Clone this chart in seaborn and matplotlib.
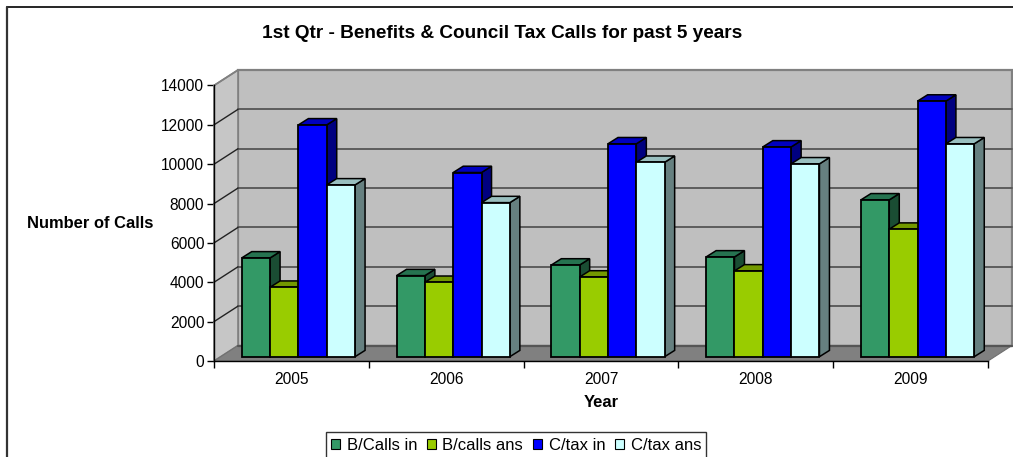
import matplotlib
matplotlib.use("Agg")
import matplotlib.pyplot as plt
import pandas as pd
import seaborn as sns
from matplotlib.lines import Line2D
from matplotlib.patches import Patch, Polygon
from matplotlib.transforms import Affine2D

# Quarterly call volumes per year
years = ["2005", "2006", "2007", "2008", "2009"]
series_names = ["B/Calls in", "B/calls ans", "C/tax in", "C/tax ans"]
benefit_calls_in = [5020, 4120, 4660, 5070, 7970]
benefit_calls_ans = [3530, 3780, 4050, 4360, 6480]
ctax_calls_in = [11780, 9360, 10820, 10660, 12990]
ctax_calls_ans = [8730, 7830, 9880, 9800, 10820]
y_ticks = [0, 2000, 4000, 6000, 8000, 10000, 12000, 14000]

front_colors = ["#339966", "#99CC00", "#0000FF", "#CCFFFF"]
top_colors = ["#267350", "#739900", "#0000BF", "#99BFBF"]
side_colors = ["#1A4D33", "#4D6600", "#000080", "#668080"]

W, H = 1013, 457
sns.set_style("white")
plt.rcParams["font.family"] = ["Liberation Sans", "DejaVu Sans"]
plt.rcParams["text.color"] = "black"
plt.rcParams["xtick.labelcolor"] = "black"
plt.rcParams["ytick.labelcolor"] = "black"

fig = plt.figure(figsize=(W / 100, H / 100), dpi=100, facecolor="white")


def axes_box(left, right, top, bottom):
    return [left / W, 1 - bottom / H, (right - left) / W, (bottom - top) / H]


# Front plane carries the scales; the bars sit slightly inside the box
ax = fig.add_axes(axes_box(214, 988, 85.5, 361))
ax_bars = fig.add_axes(axes_box(221, 995, 81.2, 356.7))
for a in (ax, ax_bars):
    a.set_xlim(-0.5, 4.5)
    a.set_ylim(0, 14000)
ax.set_facecolor("none")
ax_bars.set_facecolor("none")

# Walls and floor of the box, pushed back by a fixed pixel depth
DEPTH_X, DEPTH_Y = 24, 15.5
back = ax.transData + Affine2D().translate(DEPTH_X, DEPTH_Y)
px_x = 5 / (988 - 214)
px_y = 14000 / 275.5
dx, dy = DEPTH_X * px_x, DEPTH_Y * px_y
x0, x1 = -0.5, 4.5
ax.add_patch(Polygon([(x0, 0), (x1, 0), (x1, 14000), (x0, 14000)], closed=True, transform=back,
                     facecolor="#BFBFBF", edgecolor="#808080", linewidth=1.6, zorder=1, clip_on=False))
ax.add_patch(Polygon([(x0, 0), (x0, 14000), (x0 + dx, 14000 + dy), (x0 + dx, dy)], closed=True,
                     facecolor="#C6C6C6", edgecolor="#808080", linewidth=1.2, zorder=1.1, clip_on=False))
for tick in y_ticks[1:-1]:
    ax.plot([x0, x1], [tick, tick], transform=back, color="#555555", lw=1.3, zorder=1.5, clip_on=False)
    ax.plot([x0, x0 + dx], [tick, tick + dy], color="#222222", lw=1.0, zorder=1.5, clip_on=False)
ax.add_patch(Polygon([(x0, 0), (x1, 0), (x1 + dx, dy), (x0 + dx, dy)], closed=True,
                     facecolor="#808080", edgecolor="#707070", linewidth=0.8, zorder=2, clip_on=False))
ax.plot([x0 + dx, x1 + dx], [dy, dy], color="#555555", lw=1.6, zorder=2.1, clip_on=False)
ax.plot([x0, x0 + dx], [14000, 14000 + dy], color="#808080", lw=1.2, zorder=2.1, clip_on=False)

# Front faces of the bars
calls = pd.DataFrame({
    "year": years * 4,
    "series": [s for s in series_names for _ in years],
    "calls": benefit_calls_in + benefit_calls_ans + ctax_calls_in + ctax_calls_ans,
})
sns.barplot(data=calls, x="year", y="calls", hue="series", hue_order=series_names, order=years,
            palette=front_colors, width=0.732, gap=0, saturation=1, legend=False, ax=ax_bars,
            edgecolor="black", linewidth=1.3)
ax_bars.set_xlim(-0.5, 4.5)
ax_bars.set_ylim(0, 14000)
ax_bars.axis("off")

# Side and top faces, stacked so each bar hides its left neighbour's side
BAR_DX, BAR_DY = 10 * px_x, 6.3 * px_y
bars = [b for cont in ax_bars.containers for b in cont]
n_series = len(series_names)
n_years = len(years)
for s_idx in range(n_series):
    for y_idx in range(n_years):
        bar = bars[s_idx * n_years + y_idx]
        left, right = bar.get_x(), bar.get_x() + bar.get_width()
        top = bar.get_height()
        z = 3 + y_idx * 10 + s_idx
        ax_bars.add_patch(Polygon([(right, 0), (right, top), (right + BAR_DX, top + BAR_DY), (right + BAR_DX, BAR_DY)],
                                  closed=True, facecolor=side_colors[s_idx], edgecolor="black", linewidth=1.1,
                                  zorder=z, clip_on=False))
        ax_bars.add_patch(Polygon([(left, top), (right, top), (right + BAR_DX, top + BAR_DY), (left + BAR_DX, top + BAR_DY)],
                                  closed=True, facecolor=top_colors[s_idx], edgecolor="black", linewidth=1.1,
                                  zorder=z + 0.1, clip_on=False))
        bar.set_zorder(z + 0.2)
        bar.set_clip_on(False)

# Scales on the front plane
ax.set_zorder(1)
ax_bars.set_zorder(2)
for side in ("top", "right"):
    ax.spines[side].set_visible(False)
for side in ("left", "bottom"):
    ax.spines[side].set_color("black")
    ax.spines[side].set_linewidth(1.0)
    ax.spines[side].set_zorder(2.5)
ax.set_yticks(y_ticks)
ax.set_yticklabels([str(t) for t in y_ticks])
ax.set_xticks([i - 0.5 for i in range(n_years + 1)])
ax.set_xticklabels([])
ax.set_xticks(range(n_years), labels=years, minor=True)
ax.tick_params(axis="y", length=5, width=1, color="black", labelsize=11.2, pad=2, left=True)
ax.tick_params(axis="x", which="major", length=5, width=1, color="black", bottom=True)
ax.tick_params(axis="x", which="minor", length=0, labelsize=11.2, pad=8)

fig.text(502.5 / W, 1 - 33.5 / H, "1st Qtr - Benefits & Council Tax Calls for past 5 years", fontsize=13.7,
         fontweight="bold", ha="center", va="center")
fig.text(90 / W, 1 - 223.5 / H, "Number of Calls", fontsize=11.9, fontweight="bold", ha="center", va="center")
fig.text(601 / W, 1 - 402.5 / H, "Year", fontsize=11.9, fontweight="bold", ha="center", va="center")

handles = [Patch(facecolor=c, edgecolor="black", linewidth=0.8) for c in front_colors]
legend = fig.legend(handles, series_names, ncol=4, loc="center", bbox_to_anchor=(516 / W, 1 - 445 / H),
                    fontsize=12, frameon=True, fancybox=False, edgecolor="#333333", framealpha=1,
                    handlelength=0.56, handleheight=0.56, handletextpad=0.38, columnspacing=0.58,
                    borderpad=0.32, borderaxespad=0)
legend.get_frame().set_linewidth(1.0)

# Chart area border along the top and left
fig.add_artist(Line2D([7 / W, 1], [1 - 7 / H, 1 - 7 / H], color="black", lw=1.2))
fig.add_artist(Line2D([7 / W, 7 / W], [0, 1 - 7 / H], color="#333333", lw=1.6))

fig.savefig("out.png", dpi=100)
